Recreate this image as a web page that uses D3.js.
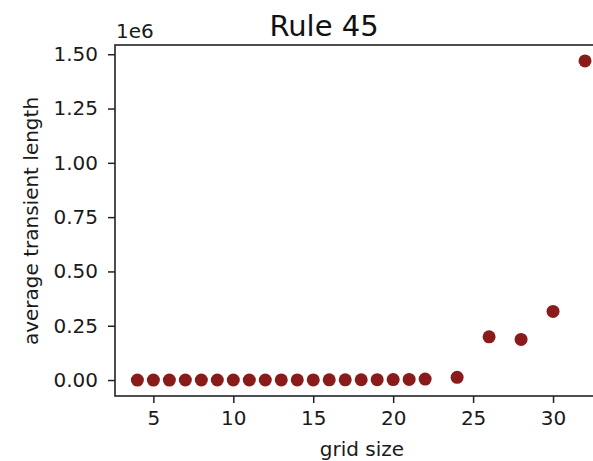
<!DOCTYPE html>
<html>
<head>
<meta charset="utf-8">
<script src="https://cdn.jsdelivr.net/npm/d3@7"></script>
<style>
html,body{margin:0;padding:0;background:#fff;overflow:hidden;}
svg{display:block;font-family:"DejaVu Sans",sans-serif;}
</style>
</head>
<body>
<svg id="chart" width="593" height="461"></svg>
<script>
const gridSizes = [4,5,6,7,8,9,10,11,12,13,14,15,16,17,18,19,20,21,22,24,26,28,30,32];
const avgTransient = [20,40,60,90,120,160,210,270,340,430,540,680,860,1100,1400,1800,2300,2900,4500,12500,199000,187000,316000,1469000];
const xTicks = [5,10,15,20,25,30];
const yTicks = [0,250000,500000,750000,1000000,1250000,1500000];
const yTickLabels = ["0.00","0.25","0.50","0.75","1.00","1.25","1.50"];

(function(){
const svg = d3.select("#chart");
const mLeft = 115, mTop = 45, mBottom = 396, mRight = 607.4;
const x = d3.scaleLinear().domain([2.6, 33.4]).range([mLeft, mRight]);
const y = d3.scaleLinear().domain([-73450, 1542450]).range([mBottom, mTop]);

const gx = svg.append("g").attr("transform", `translate(0,${mBottom})`)
  .call(d3.axisBottom(x).tickValues(xTicks).tickSize(7).tickPadding(8).tickSizeOuter(0));
const gy = svg.append("g").attr("transform", `translate(${mLeft},0)`)
  .call(d3.axisLeft(y).tickValues(yTicks).tickFormat((d,i)=>yTickLabels[i]).tickSize(7).tickPadding(10).tickSizeOuter(0));
[gx, gy].forEach(g => {
  g.selectAll("text").attr("font-family","DejaVu Sans").attr("font-size","20px").attr("fill","#1a1a1a");
  g.selectAll("line").attr("stroke","#222").attr("stroke-width",1.5);
  g.select(".domain").remove();
});

svg.append("rect").attr("x", mLeft).attr("y", mTop)
  .attr("width", mRight - mLeft).attr("height", mBottom - mTop)
  .attr("fill","none").attr("stroke","#222").attr("stroke-width",1.6);

svg.append("g").selectAll("circle").data(gridSizes).join("circle")
  .attr("cx", d => x(d))
  .attr("cy", (d,i) => y(avgTransient[i]))
  .attr("r", 6.5)
  .attr("fill", "#8b1a1a");

svg.append("text").attr("x", 116).attr("y", 38).text("1e6")
  .attr("font-size","20px").attr("fill","#1a1a1a");
svg.append("text").attr("x", 324).attr("y", 36).attr("text-anchor","middle")
  .text("Rule 45").attr("font-size","29px").attr("fill","#111");
svg.append("text").attr("x", 362).attr("y", 456).attr("text-anchor","middle")
  .text("grid size").attr("font-size","20px").attr("fill","#1a1a1a");
svg.append("text").attr("transform", `translate(38,221) rotate(-90)`)
  .attr("text-anchor","middle").text("average transient length")
  .attr("font-size","20px").attr("fill","#1a1a1a");
})();
</script>
</body>
</html>
